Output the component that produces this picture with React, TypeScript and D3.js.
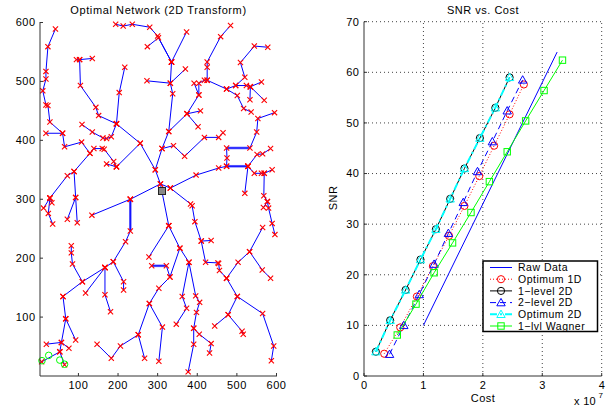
import React from 'react';
import * as d3 from 'd3';

// ---- left panel: network branches (x, y in network units) ----
const branches: number[][][] = [
  [[42, 589], [23, 559], [18, 517], [18, 504], [10, 484], [18, 460], [23, 459], [28, 431], [60, 412], [65, 389], [108, 397], [129, 378], [89, 347], [72, 340], [28, 302]],
  [[18, 412], [60, 412]],
  [[28, 302], [12, 285]],
  [[28, 302], [33, 294]],
  [[28, 302], [24, 276], [35, 258]],
  [[89, 347], [93, 303], [72, 266]],
  [[93, 303], [97, 260]],
  [[129, 378], [139, 386], [160, 386], [165, 385], [189, 364], [196, 355]],
  [[171, 360], [196, 355]],
  [[196, 355], [256, 395]],
  [[95, 537], [103, 537], [135, 539]],
  [[103, 537], [105, 493], [144, 456], [151, 442], [196, 428], [203, 481], [217, 524]],
  [[196, 428], [256, 395], [294, 350]],
  [[109, 427], [135, 414], [162, 404], [171, 403], [183, 406], [196, 428]],
  [[194, 597], [213, 594], [236, 597], [280, 592], [300, 577], [335, 533]],
  [[274, 559], [302, 574], [335, 533]],
  [[335, 533], [373, 584]],
  [[335, 533], [332, 497], [338, 479], [328, 415], [311, 386], [294, 350], [307, 326], [328, 255]],
  [[273, 501], [332, 497], [370, 521]],
  [[328, 415], [374, 445], [408, 450]],
  [[374, 445], [402, 423]],
  [[374, 445], [404, 477], [392, 497]],
  [[404, 477], [404, 497], [418, 502], [425, 502], [425, 524], [425, 533], [459, 576], [484, 595]],
  [[425, 502], [474, 487], [497, 493], [524, 493], [534, 491], [562, 499]],
  [[534, 491], [533, 469]],
  [[534, 491], [569, 468]],
  [[497, 493], [520, 507], [509, 532], [544, 560], [578, 558]],
  [[474, 487], [501, 476], [517, 454], [536, 448]],
  [[311, 386], [340, 391], [368, 373], [418, 405], [454, 405], [465, 413]],
  [[231, 300], [307, 326], [332, 319], [397, 341], [454, 353], [474, 356], [528, 356]],
  [[332, 319], [383, 292], [387, 289], [394, 262], [410, 229], [435, 230]],
  [[410, 229], [421, 193], [452, 192], [454, 191], [456, 179], [474, 166]],
  [[474, 166], [503, 193], [532, 211], [565, 252]],
  [[532, 211], [564, 180], [585, 166]],
  [[474, 166], [501, 135], [478, 104], [444, 85]],
  [[478, 104], [513, 76], [516, 71]],
  [[501, 135], [565, 106], [593, 51], [587, 26]],
  [[474, 356], [475, 370], [474, 387], [533, 387], [550, 414], [553, 437], [595, 447]],
  [[528, 356], [520, 310]],
  [[528, 356], [544, 344], [562, 344], [569, 344], [589, 350]],
  [[528, 356], [551, 376], [565, 377], [585, 386]],
  [[569, 344], [568, 306], [577, 296], [580, 285], [589, 259], [596, 240]],
  [[577, 296], [567, 286]],
  [[231, 300], [134, 273]],
  [[231, 300], [231, 246], [219, 228], [188, 194], [167, 184]],
  [[188, 194], [214, 160], [214, 146]],
  [[167, 184], [110, 160], [61, 135]],
  [[167, 184], [118, 141]],
  [[167, 184], [167, 138], [181, 109]],
  [[82, 221], [82, 209], [85, 190], [110, 160]],
  [[61, 135], [68, 97], [57, 57], [53, 41], [7, 24]],
  [[68, 97], [93, 61]],
  [[19, 54], [57, 57], [76, 47]],
  [[53, 41], [65, 19]],
  [[147, 54], [183, 30], [206, 51], [251, 70], [279, 123], [303, 149], [331, 168], [356, 217], [328, 255]],
  [[285, 187], [322, 187], [331, 168]],
  [[251, 70], [267, 30]],
  [[279, 123], [312, 83], [303, 25]],
  [[328, 255], [278, 202]],
  [[356, 217], [379, 193], [362, 135], [373, 115], [347, 88]],
  [[379, 193], [396, 136], [406, 125], [398, 108], [391, 81], [391, 54], [377, 7]],
  [[391, 81], [405, 71], [435, 55], [431, 39]],
];
// doubled links show up as wider strokes
const doubledLinks: number[][][] = [
  [[474, 387], [533, 387]],
  [[474, 356], [528, 356]],
  [[231, 300], [231, 246]],
  [[285, 187], [322, 187]],
];
const rootNode = [311, 314];
const greenRings = [[8, 26], [25, 35], [53, 27], [65, 20]];
const netTicks = [100, 200, 300, 400, 500, 600];

// ---- right panel: SNR vs cost (cost in units of 1e7) ----
const costTicks = [0, 1, 2, 3, 4];
const snrTicks = [0, 10, 20, 30, 40, 50, 60, 70];

const rawCost = [1.0, 3.25];
const rawSnr = [10, 64];
const opt1dCost = [0.34, 0.61, 0.89, 1.16, 1.43, 1.69, 1.94, 2.19, 2.45, 2.69];
const opt1dSnr = [4.4, 9.6, 15.7, 21.7, 27.7, 33.6, 39.5, 45.5, 51.7, 57.6];
const lvl1Cost = [0.2, 0.44, 0.70, 0.95, 1.21, 1.45, 1.69, 1.95, 2.21, 2.45];
const lvl1Snr = [4.8, 11, 17, 23, 29, 35, 41, 47, 53, 59];
const lvl2Cost = [0.43, 0.67, 0.93, 1.18, 1.42, 1.67, 1.91, 2.16, 2.41, 2.67];
const lvl2Snr = [4.3, 10, 16.1, 22.1, 28.2, 34.3, 40.4, 46.3, 52.4, 58.5];
const opt2dCost = [0.2, 0.44, 0.70, 0.95, 1.21, 1.45, 1.69, 1.95, 2.21, 2.45];
const opt2dSnr = [4.8, 11, 17, 23, 29, 35, 41, 47, 53, 59];
const wagnerCost = [0.56, 0.875, 1.18, 1.49, 1.80, 2.11, 2.41, 2.72, 3.03, 3.34];
const wagnerSnr = [8.1, 14.2, 20.4, 26.3, 32.3, 38.4, 44.3, 50.4, 56.4, 62.4];

const seriesNames = ['Raw Data', 'Optimum 1D', '1\u2212level 2D', '2\u2212level 2D', 'Optimum 2D', '1\u2212lvl Wagner'];

const FONT = '"Liberation Sans", Arial, Helvetica, sans-serif';

function Marker({ kind, x, y, color }) {
  if (kind === 'circle') return <circle cx={x} cy={y} r={3.6} fill="none" stroke={color} strokeWidth={1} />;
  if (kind === 'tri') return <path d={`M${x},${y - 4.2}L${x + 4.2},${y + 3.2}L${x - 4.2},${y + 3.2}Z`} fill="none" stroke={color} strokeWidth={1} />;
  if (kind === 'square') return <rect x={x - 3.2} y={y - 3.2} width={6.4} height={6.4} fill="none" stroke={color} strokeWidth={1} />;
  return null;
}

export default function App() {
  const nx = d3.scaleLinear().domain([3, 600]).range([40, 276.5]);
  const ny = d3.scaleLinear().domain([0, 600]).range([376, 22.5]);
  const sx = d3.scaleLinear().domain([0, 4]).range([364, 601.7]);
  const sy = d3.scaleLinear().domain([0, 70]).range([376, 21.7]);

  const netLine = d3.line<number[]>().x(d => nx(d[0])).y(d => ny(d[1]));
  const snrLine = d3.line<number[]>().x(d => sx(d[0])).y(d => sy(d[1]));

  const series = [
    { name: seriesNames[0], cost: rawCost, snr: rawSnr, color: '#0000ff', dash: null, width: 1, marker: null },
    { name: seriesNames[1], cost: opt1dCost, snr: opt1dSnr, color: '#ff0000', dash: '1 2', width: 1, marker: 'circle' },
    { name: seriesNames[2], cost: lvl1Cost, snr: lvl1Snr, color: '#000000', dash: null, width: 1, marker: 'circle' },
    { name: seriesNames[3], cost: lvl2Cost, snr: lvl2Snr, color: '#0000ff', dash: '6 4', width: 1, marker: 'tri' },
    { name: seriesNames[4], cost: opt2dCost, snr: opt2dSnr, color: '#00ffff', dash: '7 3 2 3', width: 2, marker: 'tri' },
    { name: seriesNames[5], cost: wagnerCost, snr: wagnerSnr, color: '#00ff00', dash: null, width: 1, marker: 'square' },
  ];

  const allNodes = branches.flat();
  const axisColor = '#333';
  const fs = 11;

  return (
    <svg width={608} height={408} style={{ position: 'absolute', left: 0, top: 0, background: '#fff' }} fontFamily={FONT}>
      <rect width={608} height={408} fill="#fff" />

      {/* ===== left panel ===== */}
      <text x={158.5} y={14} fontSize={fs} letterSpacing={0.6} textAnchor="middle" fill="#000">Optimal Network (2D Transform)</text>
      <g>
        {doubledLinks.map((b, i) => (
          <path key={'d' + i} d={netLine(b)} fill="none" stroke="#6a6aff" strokeWidth={2.6} />
        ))}
        {branches.map((b, i) => (
          <path key={'b' + i} d={netLine(b)} fill="none" stroke="#0000ff" strokeWidth={1} />
        ))}
        {allNodes.map((p, i) => {
          const x = nx(p[0]), y = ny(p[1]);
          return (
            <path key={'x' + i} d={`M${x - 2.6},${y - 2.6}L${x + 2.6},${y + 2.6}M${x - 2.6},${y + 2.6}L${x + 2.6},${y - 2.6}`}
              stroke="#ff0000" strokeWidth={1.1} />
          );
        })}
        <rect x={nx(rootNode[0]) - 3.5} y={ny(rootNode[1]) - 3.5} width={7} height={7} fill="#888" stroke="#222" strokeWidth={1} />
        {greenRings.map((p, i) => (
          <circle key={'g' + i} cx={nx(p[0])} cy={ny(p[1])} r={3.3} fill="none" stroke="#00ff00" strokeWidth={1} />
        ))}
      </g>
      <line x1={40} x2={40} y1={22} y2={376} stroke={axisColor} />
      <line x1={40} x2={277} y1={376} y2={376} stroke={axisColor} />
      {netTicks.map(t => (
        <g key={'nyt' + t}>
          <line x1={40} x2={43} y1={ny(t)} y2={ny(t)} stroke={axisColor} />
          <text x={35.5} y={ny(t)} dy="0.35em" fontSize={fs} letterSpacing={0.5} textAnchor="end">{t}</text>
        </g>
      ))}
      {netTicks.map(t => (
        <g key={'nxt' + t}>
          <line x1={nx(t)} x2={nx(t)} y1={376} y2={373} stroke={axisColor} />
          <text x={nx(t)} y={389} fontSize={fs} letterSpacing={0.5} textAnchor="middle">{t}</text>
        </g>
      ))}

      {/* ===== right panel ===== */}
      <text x={483} y={14} fontSize={fs} letterSpacing={0.5} textAnchor="middle">SNR vs. Cost</text>
      {costTicks.slice(1).map(t => (
        <line key={'gx' + t} x1={sx(t)} x2={sx(t)} y1={sy(0)} y2={sy(70)} stroke="#444" strokeDasharray="1 3" />
      ))}
      {snrTicks.slice(1).map(t => (
        <line key={'gy' + t} x1={sx(0)} x2={sx(4)} y1={sy(t)} y2={sy(t)} stroke="#444" strokeDasharray="1 3" />
      ))}
      <line x1={364} x2={364} y1={21.7} y2={376} stroke={axisColor} />
      <line x1={364} x2={601.7} y1={376} y2={376} stroke={axisColor} />
      {snrTicks.map(t => (
        <g key={'syt' + t}>
          <line x1={364} x2={367} y1={sy(t)} y2={sy(t)} stroke={axisColor} />
          <text x={359.5} y={sy(t)} dy="0.35em" fontSize={fs} letterSpacing={0.5} textAnchor="end">{t}</text>
        </g>
      ))}
      {costTicks.map(t => (
        <g key={'sxt' + t}>
          <line x1={sx(t)} x2={sx(t)} y1={376} y2={373} stroke={axisColor} />
          <text x={sx(t)} y={389} fontSize={fs} textAnchor="middle">{t}</text>
        </g>
      ))}
      <text x={483} y={402} fontSize={fs} letterSpacing={0.5} textAnchor="middle">Cost</text>
      <text x={574} y={405} fontSize={fs} letterSpacing={0.3}>x 10</text>
      <text x={598.5} y={398} fontSize={8}>7</text>
      <text transform="translate(337,198) rotate(-90)" fontSize={fs} letterSpacing={0.5} textAnchor="middle">SNR</text>

      {series.map((s, i) => {
        const pts = s.cost.map((c, k) => [c, s.snr[k]]);
        return (
          <g key={'s' + i}>
            <path d={snrLine(pts)} fill="none" stroke={s.color} strokeWidth={s.width} strokeDasharray={s.dash || undefined} />
            {s.marker && pts.map((p, k) => (
              <Marker key={k} kind={s.marker} x={sx(p[0])} y={sy(p[1])} color={s.color} />
            ))}
          </g>
        );
      })}

      {/* legend */}
      <g>
        <rect x={483} y={261} width={114.5} height={70.5} fill="#fff" stroke="#000" strokeWidth={1.5} />
        {series.map((s, i) => {
          const y = 267.5 + i * 11.7;
          return (
            <g key={'l' + i}>
              <line x1={490} x2={512} y1={y} y2={y} stroke={s.color} strokeWidth={s.width} strokeDasharray={s.dash || undefined} />
              {s.marker && <Marker kind={s.marker} x={501} y={y} color={s.color} />}
              <text x={518} y={y} dy="0.36em" fontSize={10.5} letterSpacing={0.5}>{s.name}</text>
            </g>
          );
        })}
      </g>
    </svg>
  );
}
